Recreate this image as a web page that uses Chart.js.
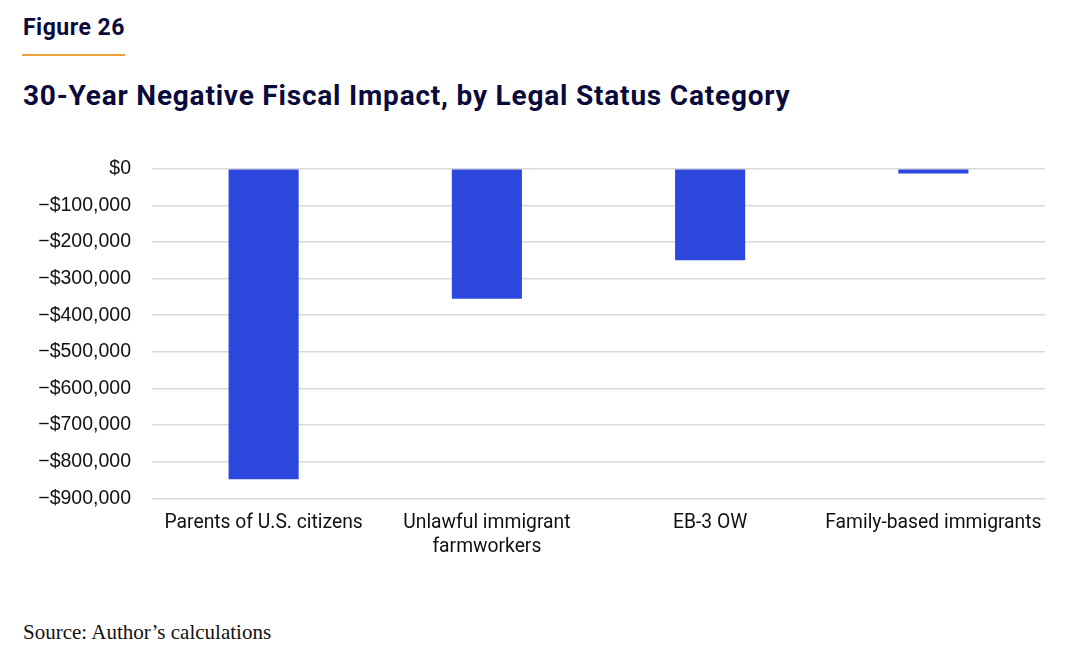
<!DOCTYPE html>
<html>
<head>
<meta charset="utf-8">
<script src="https://cdn.jsdelivr.net/npm/chart.js@4.4.1/dist/chart.umd.min.js"></script>
<style>
  html, body { margin: 0; padding: 0; background: #fff; }
  body { width: 1075px; height: 666px; position: relative; overflow: hidden; }
  #fig { position: absolute; left: 23px; top: 14px; font-family: Roboto, "Noto Sans", sans-serif; font-weight: 700; font-size: 23px; letter-spacing: 0.5px; color: #0b0b3b; }
  #rule { position: absolute; left: 22px; top: 54px; width: 103px; height: 2px; background: #e9a03f; }
  #title { position: absolute; left: 23px; top: 79px; font-family: Roboto, "Noto Sans", sans-serif; font-weight: 700; font-size: 28px; letter-spacing: 0.8px; color: #0b0b3b; white-space: nowrap; }
  #src { position: absolute; left: 23px; top: 620px; font-family: "Liberation Serif", serif; font-size: 21px; color: #111; }
  #wrap { position: absolute; left: 0; top: 135.5px; width: 1060px; height: 436.5px; }
</style>
</head>
<body>
<div id="fig">Figure 26</div>
<div id="rule"></div>
<div id="title">30-Year Negative Fiscal Impact, by Legal Status Category</div>
<div id="wrap"><canvas id="c"></canvas></div>
<div id="src">Source: Author’s calculations</div>
<script>
const categories = [
  "Parents of U.S. citizens",
  ["Unlawful immigrant", "farmworkers"],
  "EB-3 OW",
  "Family-based immigrants"
];
const fiscalImpact = [-848000, -355000, -250000, -13000];
const yTicks = [0, -100000, -200000, -300000, -400000, -500000, -600000, -700000, -800000, -900000];

function fmt(v) {
  if (v === 0) return "$0";
  const a = Math.abs(v).toLocaleString("en-US");
  return (v < 0 ? "\u2212$" : "$") + a;
}

new Chart(document.getElementById("c"), {
  type: "bar",
  data: {
    labels: categories,
    datasets: [{
      data: fiscalImpact,
      backgroundColor: "#2c48dc",
      borderWidth: 0,
      barPercentage: 0.314,
      categoryPercentage: 1.0
    }]
  },
  options: {
    responsive: true,
    maintainAspectRatio: false,
    animation: false,
    layout: { padding: { top: 11, right: 15, left: 0, bottom: 0 } },
    plugins: { legend: { display: false }, tooltip: { enabled: false } },
    scales: {
      x: {
        grid: { display: false, drawTicks: false },
        border: { display: false },
        ticks: {
          color: "#111",
          padding: 13,
          maxRotation: 0,
          font: { family: "Roboto, 'Noto Sans', sans-serif", size: 19.3, lineHeight: 1.25 }
        }
      },
      y: {
        min: -900000,
        max: 0,
        afterBuildTicks: (s) => { s.ticks = yTicks.map(v => ({ value: v })); },
        afterFit: (s) => { s.width = 152; },
        grid: { color: "#d9d9d9", lineWidth: 1.5, drawTicks: false },
        border: { display: false },
        ticks: {
          color: "#111",
          padding: 21,
          font: { family: "'Liberation Sans', Arial, sans-serif", size: 19.5 },
          callback: (v) => fmt(v)
        }
      }
    }
  }
});
</script>
</body>
</html>
